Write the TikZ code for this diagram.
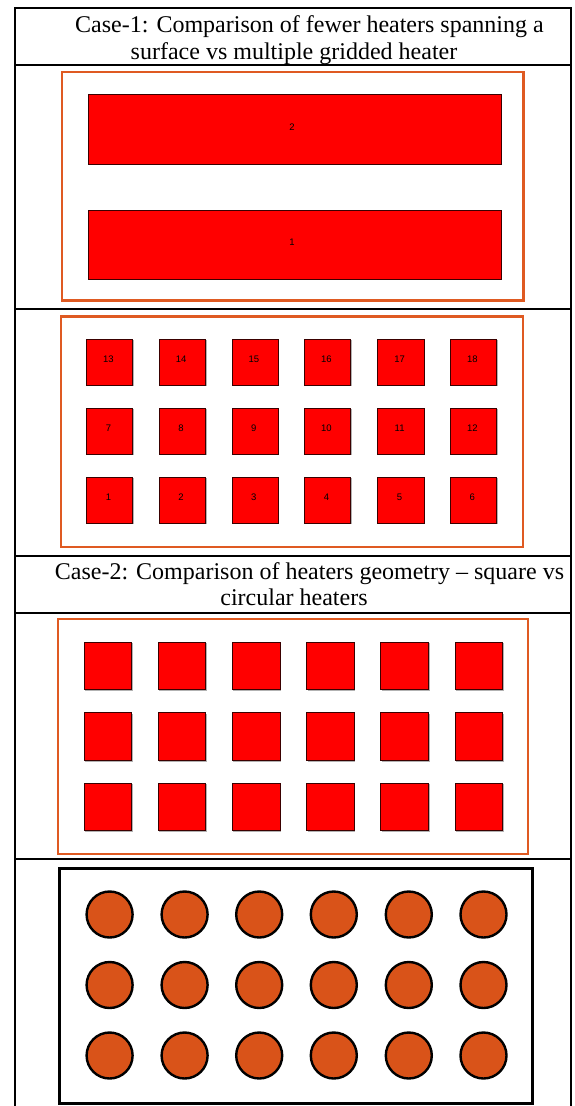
\documentclass[tikz,border=0pt]{standalone}
\usepackage{fontspec}
\setmainfont{Liberation Serif}
\newfontfamily\labelfont{Liberation Sans}
\definecolor{heatred}{HTML}{FF0000}
\definecolor{edgered}{HTML}{3A0000}
\definecolor{frameorange}{HTML}{DF5A22}
\definecolor{circorange}{HTML}{D95319}
\begin{document}
\begin{tikzpicture}[x=1pt,y=-1pt,
  tableline/.style={line width=2pt,black},
  frame/.style={draw=frameorange,line width=2.6pt},
  heater/.style={fill=heatred,draw=edgered,line width=0.9pt},
  shadowbox/.style={fill=black!30,draw=none},
  numlabel/.style={font=\labelfont\fontsize{9.5}{10}\selectfont,inner sep=0pt,text=black},
  titletext/.style={font=\fontsize{24}{27.6}\selectfont,anchor=base,inner sep=0pt},
  circheater/.style={circle,fill=circorange,draw=black,line width=2.4pt,minimum size=46pt,inner sep=0pt},
  blackframe/.style={draw=black,line width=3pt}]
\useasboundingbox (0,0) rectangle (574,1106);
% outer table
\draw[tableline] (15,1107) -- (15,8) -- (571,8) -- (571,1107);
\foreach \yy in {65,309,556,612.5,858.5}
  \draw[tableline] (15,\yy) -- (571,\yy);
% titles
\node[titletext] (t1a) at (309.5,32) {Case-1: Comparison of fewer heaters spanning a};
\node[titletext] (t1b) at (294,59.5) {surface vs multiple gridded heater};
\node[titletext] (t2a) at (309.5,579.5) {Case-2: Comparison of heaters geometry -- square vs};
\node[titletext] (t2b) at (294,605.5) {circular heaters};
% panel 1
\draw[frame] (62,72) rectangle (523.5,300.5);
\fill[shadowbox] (89,95) rectangle (502,165);
\draw[heater] (88,94) rectangle (501,164);
\node[numlabel] (h2) at (292,127) {2};
\fill[shadowbox] (89,211) rectangle (502,280);
\draw[heater] (88,210) rectangle (501,279);
\node[numlabel] (h1) at (292,242) {1};
% panel 2
\draw[frame] (61,316.5) rectangle (523,547);
\foreach \r/\yy in {0/477,1/408,2/339}{
  \foreach \c/\xx in {0/86.7,1/159.3,2/232,3/304.6,4/377.8,5/450.5}{
    \pgfmathtruncatemacro{\num}{\r*6+\c+1}
    \fill[shadowbox] (\xx+1,\yy+1) rectangle (\xx+47.2,\yy+47.2);
    \draw[heater] (\xx,\yy) rectangle (\xx+46.2,\yy+46.2);
    \node[numlabel] (g\num) at (\xx+21.8,\yy+20) {\num};
  }
}
% panel 3
\draw[frame] (58,619) rectangle (528,854);
\foreach \r/\yy in {0/642,1/712.8,2/783.2}{
  \foreach \c/\xx in {0/84,1/158.2,2/232.4,3/306.6,4/380.8,5/455}{
    \fill[shadowbox] (\xx+1,\yy+1) rectangle (\xx+48.7,\yy+48.7);
    \draw[heater] (\xx,\yy) rectangle (\xx+47.7,\yy+47.7) node[coordinate] (s\r\c) {};
  }
}
% panel 4
\draw[blackframe] (59.5,868) rectangle (532.5,1103);
\foreach \r/\yy in {0/914.5,1/985,2/1055.5}{
  \foreach \c/\xx in {0/109.6,1/184.6,2/259.2,3/333.8,4/408.8,5/483.5}{
    \node[circheater] (c\r\c) at (\xx,\yy) {};
  }
}
\end{tikzpicture}
\end{document}
